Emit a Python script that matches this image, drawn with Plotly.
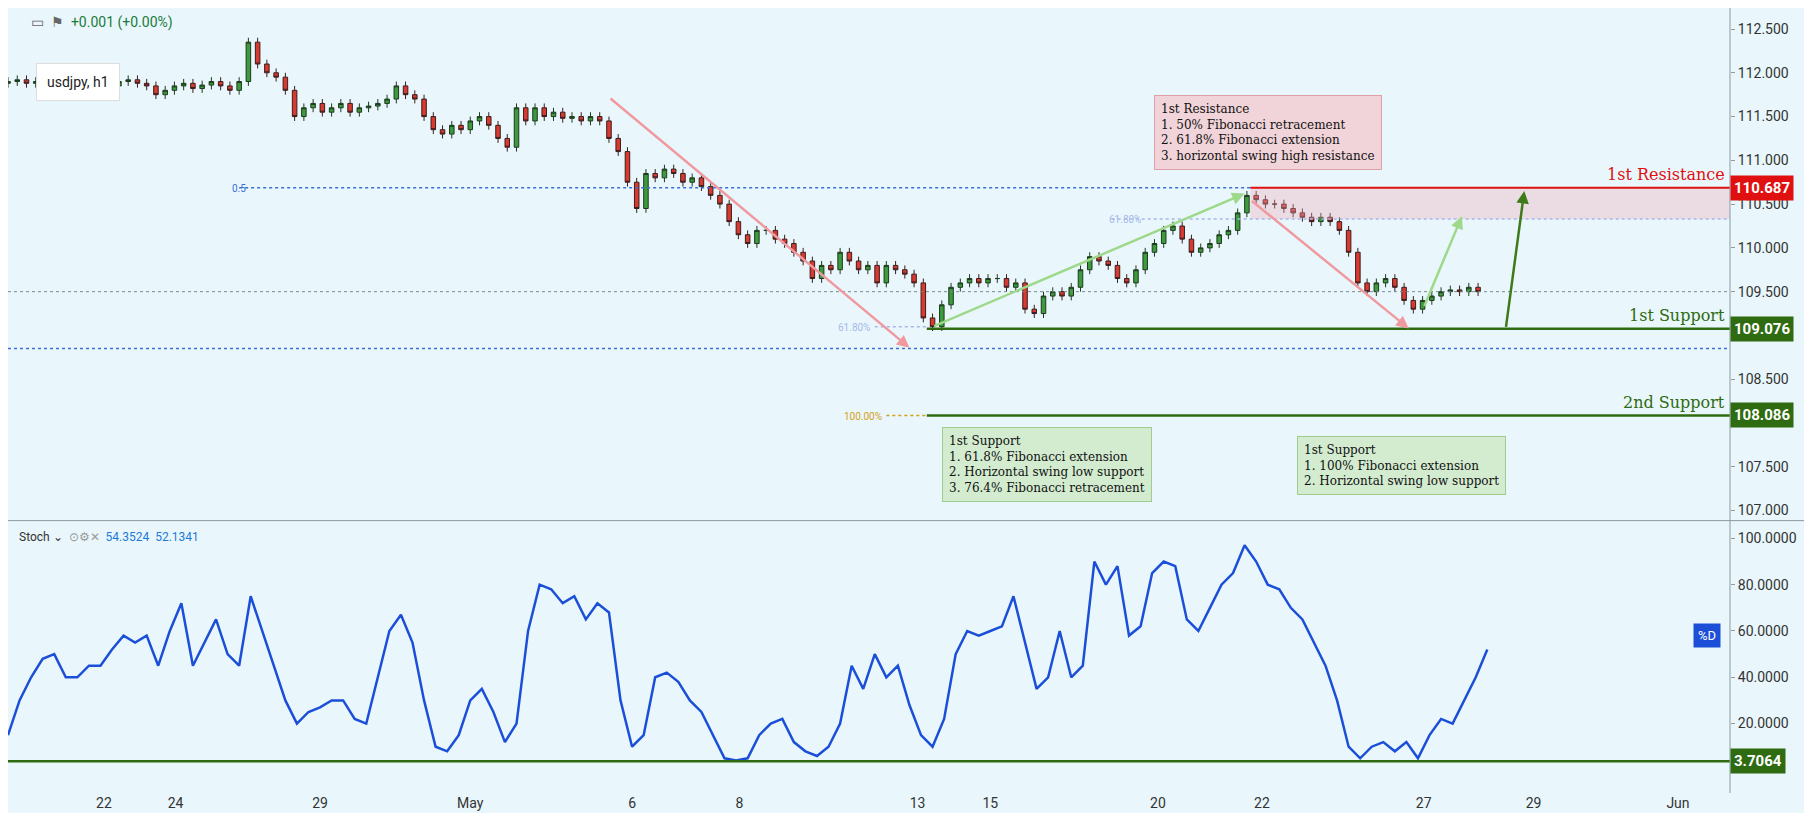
import plotly.graph_objects as go

# ---------------- data ----------------
bar_step = 8
closes = [111.9,111.92,111.88,111.9,111.95,111.9,111.87,111.9,111.93,111.9,111.88,111.85,111.9,111.92,111.88,111.85,
111.75,111.8,111.85,111.88,111.82,111.86,111.9,111.85,111.8,111.9,112.35,112.1,112.0,111.95,111.8,111.5,111.6,111.65,
111.55,111.6,111.65,111.55,111.6,111.62,111.65,111.7,111.85,111.75,111.7,111.5,111.35,111.3,111.4,111.35,111.45,111.5,
111.4,111.25,111.15,111.6,111.45,111.6,111.5,111.55,111.48,111.5,111.45,111.5,111.45,111.25,111.1,110.75,110.45,110.85,
110.8,110.9,110.85,110.75,110.8,110.7,110.6,110.5,110.3,110.15,110.05,110.2,110.2,110.1,110.05,109.95,109.85,109.65,
109.8,109.75,109.95,109.85,109.75,109.8,109.6,109.8,109.75,109.7,109.6,109.2,109.1,109.35,109.55,109.6,109.65,109.6,
109.65,109.65,109.55,109.6,109.3,109.25,109.45,109.5,109.45,109.55,109.75,109.9,109.85,109.8,109.65,109.6,109.75,
109.95,110.05,110.2,110.25,110.1,109.95,110.0,110.05,110.15,110.2,110.4,110.6,110.55,110.5,110.5,110.45,110.4,110.35,
110.3,110.35,110.3,110.2,109.95,109.6,109.5,109.6,109.65,109.55,109.4,109.3,109.4,109.45,109.5,109.52,109.5,109.55,109.5]
first_open = 111.88
wick = 0.05

stoch_step = 10
stoch_d = [15,30,40,48,50,40,40,45,45,52,58,55,58,45,60,72,45,55,65,50,45,75,60,45,30,20,25,27,30,30,22,20,40,60,67,55,
30,10,8,15,30,35,25,12,20,60,80,78,72,75,65,72,68,30,10,15,40,42,38,30,25,15,5,4,5,15,20,22,12,8,6,10,20,45,35,50,40,
45,28,15,10,22,50,60,58,60,62,75,55,35,40,60,40,45,90,80,88,58,62,85,90,88,65,60,70,80,85,97,90,80,78,70,65,55,45,30,
10,5,10,12,8,12,5,15,22,20,30,40,52]

tick_pos = [83,145,270,400,540,633,787,850,995,1085,1225,1320,1445]
tick_text = ["22","24","29","May","6","8","13","15","20","22","27","29","Jun"]
price_ticks = [107.0, 107.5, 108.5, 109.5, 110.0, 110.5, 111.0, 111.5, 112.0, 112.5]

res1, sup1, sup2, stoch_lvl = 110.687, 109.076, 108.086, 3.7064
fib50, fib618_up, fib618_dn, low_dotted, last_price = 110.687, 110.33, 109.1, 108.85, 109.5

# ---------------- build ----------------
opens = [first_open] + closes[:-1]
highs = [max(o, c) + wick for o, c in zip(opens, closes)]
lows = [min(o, c) - wick for o, c in zip(opens, closes)]
bx = [i * bar_step for i in range(len(closes))]
sx = [i * stoch_step for i in range(len(stoch_d))]

fig = go.Figure()
fig.add_trace(go.Candlestick(x=bx, open=opens, high=highs, low=lows, close=closes,
    increasing=dict(fillcolor="#3d9a3d", line=dict(color="#1e3a1e", width=1)),
    decreasing=dict(fillcolor="#d9392f", line=dict(color="#3a1e1e", width=1)),
    whiskerwidth=0, xaxis="x", yaxis="y", showlegend=False))
fig.add_trace(go.Scatter(x=sx, y=stoch_d, mode="lines", line=dict(color="#1c4fd8", width=2.5),
    xaxis="x", yaxis="y2", showlegend=False, hoverinfo="skip"))

XMAX = 1490
shapes = []
def hline(y, x0, x1, color, width=2, dash="solid", yref="y"):
    shapes.append(dict(type="line", xref="x", yref=yref, x0=x0, x1=x1, y0=y, y1=y,
                       line=dict(color=color, width=width, dash=dash)))
shapes.append(dict(type="rect", xref="x", yref="y", x0=1075, x1=XMAX, y0=110.33, y1=res1,
                   fillcolor="rgba(240,170,180,0.35)", line=dict(width=0)))
hline(last_price, 0, XMAX, "#7a8a90", 1, "dot")
hline(low_dotted, 0, XMAX, "#3a6fd8", 1.5, "dot")
hline(fib50, 200, 1075, "#3a6fd8", 1.5, "dot")
hline(fib618_up, 955, XMAX, "#a8b8e8", 1.5, "dot")
hline(fib618_dn, 750, 795, "#a8b8e8", 1.5, "dot")
hline(sup2, 760, 795, "#d4a017", 1.5, "dot")
hline(res1, 1075, XMAX, "#e01010", 2)
hline(sup1, 795, XMAX, "#2f6b10", 2.5)
hline(sup2, 795, XMAX, "#2f6b10", 2.5)
hline(stoch_lvl, 0, XMAX, "#2f6b10", 2.5, yref="y2")
shapes.append(dict(type="line", xref="paper", yref="paper", x0=0, x1=1.06, y0=0.347, y1=0.347,
                   line=dict(color="#8a9ba0", width=1)))
shapes.append(dict(type="line", xref="paper", yref="paper", x0=1.0, x1=1.0, y0=0, y1=1,
                   line=dict(color="#8a9ba0", width=1)))

ann = []
def arrow(x0, y0, x1, y1, color):
    ann.append(dict(x=x1, y=y1, ax=x0, ay=y0, xref="x", yref="y", axref="x", ayref="y",
                    showarrow=True, arrowhead=2, arrowsize=1, arrowwidth=2.5, arrowcolor=color, text=""))
arrow(520, 111.72, 780, 108.86, "#f09aa0")
arrow(800, 109.1, 1070, 110.62, "#9ed88a")
arrow(1075, 110.55, 1212, 109.08, "#f09aa0")
arrow(1225, 109.32, 1258, 110.36, "#9ed88a")
arrow(1296, 109.08, 1312, 110.65, "#3f7a1a")

def box(x, y, text, bg, border):
    ann.append(dict(x=x, y=y, xref="x", yref="y", text=text, showarrow=False, xanchor="left", yanchor="top",
                    align="left", bgcolor=bg, bordercolor=border, borderwidth=1, borderpad=6,
                    font=dict(family="DejaVu Serif", size=12, color="#111")))
box(992, 111.75, "1st Resistance<br>1. 50% Fibonacci retracement<br>2. 61.8% Fibonacci extension<br>3. horizontal swing high resistance",
    "rgba(240,210,215,0.95)", "#e0a0a8")
box(808, 107.95, "1st Support<br>1. 61.8% Fibonacci extension<br>2. Horizontal swing low support<br>3. 76.4% Fibonacci retracement",
    "rgba(210,235,205,0.95)", "#a0cc90")
box(1115, 107.85, "1st Support<br>1. 100% Fibonacci extension<br>2. Horizontal swing low support",
    "rgba(210,235,205,0.95)", "#a0cc90")

def label(x, y, text, color, size=16, xanchor="right", yref="y", font="DejaVu Serif"):
    ann.append(dict(x=x, y=y, xref="x", yref=yref, text=text, showarrow=False, xanchor=xanchor,
                    yanchor="bottom", font=dict(family=font, size=size, color=color)))
label(1487, res1 + 0.02, "1st Resistance", "#e01010")
label(1487, sup1 + 0.02, "1st Support", "#2f6b10")
label(1487, sup2 + 0.02, "2nd Support", "#2f6b10")
label(208, fib50 - 0.09, "0.5", "#3a6fd8", 10, font="Roboto")
label(982, fib618_up - 0.09, "61.80%", "#a8b8e8", 10, font="Roboto")
label(748, fib618_dn - 0.1, "61.80%", "#a8b8e8", 10, font="Roboto")
label(758, sup2 - 0.1, "100.00%", "#d4a017", 10, font="Roboto")

def axis_tag(y, text, bg, yref="y"):
    ann.append(dict(x=1.0, y=y, xref="paper", yref=yref, text=text, showarrow=False, xanchor="left",
                    bgcolor=bg, font=dict(family="Roboto", size=15, color="white"), borderpad=3))
axis_tag(res1, "<b>110.687</b>", "#e01010")
axis_tag(sup1, "<b>109.076</b>", "#2f6b10")
axis_tag(sup2, "<b>108.086</b>", "#2f6b10")
axis_tag(stoch_lvl, "<b>3.7064</b>", "#2f6b10", "y2")
ann.append(dict(x=0.995, y=58, xref="paper", yref="y2", text="%D", showarrow=False, xanchor="right",
                bgcolor="#1c4fd8", font=dict(family="Roboto", size=13, color="white"), borderpad=4))

ann.append(dict(x=0.012, y=0.995, xref="paper", yref="paper", text="▭  ⚑  <span style='color:#1a7a3a'>+0.001 (+0.00%)</span>",
                showarrow=False, xanchor="left", yanchor="top", font=dict(family="Roboto", size=14, color="#666")))
ann.append(dict(x=0.016, y=0.93, xref="paper", yref="paper", text="usdjpy, h1", showarrow=False, xanchor="left",
                yanchor="top", bgcolor="white", bordercolor="#ddd", borderwidth=1, borderpad=10,
                font=dict(family="Roboto", size=14, color="#222")))
ann.append(dict(x=0.005, y=0.337, xref="paper", yref="paper",
                text="Stoch ⌄  <span style='color:#999'>⊙⚙✕</span>  <span style='color:#1c7ad8'>54.3524  52.1341</span>",
                showarrow=False, xanchor="left", yanchor="top", font=dict(family="Roboto", size=12, color="#333")))

axfont = dict(family="Roboto", size=14, color="#333")
fig.update_layout(
    width=1812, height=813, margin=dict(l=0, r=90, t=0, b=28),
    paper_bgcolor="#e9f7fc", plot_bgcolor="#e9f7fc",
    xaxis=dict(range=[0, XMAX], tickvals=tick_pos, ticktext=tick_text, showgrid=False, zeroline=False,
               rangeslider=dict(visible=False), tickfont=axfont, anchor="y2", ticks=""),
    yaxis=dict(domain=[0.352, 1], range=[106.93, 112.74], side="right", tickformat=".3f", tickvals=price_ticks,
               showgrid=False, zeroline=False, tickfont=axfont, ticks="outside", ticklen=4, tickcolor="#999"),
    yaxis2=dict(domain=[0, 0.345], range=[-10, 107], side="right", tickvals=[20, 40, 60, 80, 100],
                tickformat=".4f", showgrid=False, zeroline=False, tickfont=axfont, ticks="outside",
                ticklen=4, tickcolor="#999"),
    shapes=shapes, annotations=ann,
)
fig.write_html("out.html")
